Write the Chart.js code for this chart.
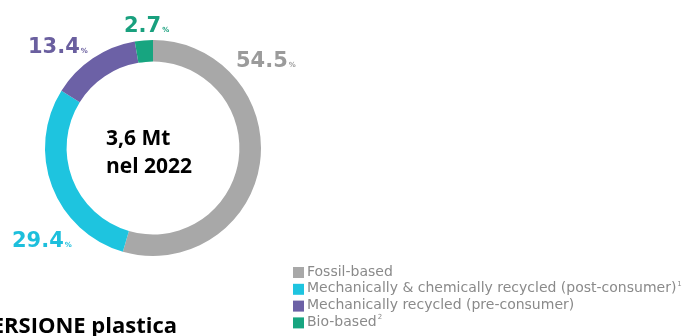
<!DOCTYPE html>
<html>
<head>
<meta charset="utf-8">
<script src="https://cdn.jsdelivr.net/npm/chart.js@4.4.0/dist/chart.umd.min.js"></script>
<style>
  html, body { margin: 0; padding: 0; background: #fff; }
  #wrap { width: 688px; height: 336px; position: relative; }
</style>
</head>
<body>
<div id="wrap"><canvas id="c" width="688" height="336"></canvas></div>
<script>
// data
const categories = ['Fossil-based', 'Mechanically & chemically recycled (post-consumer)', 'Mechanically recycled (pre-consumer)', 'Bio-based'];
const footnotes = ['', '1', '', '2'];
const shares = [54.5, 29.4, 13.4, 2.7];
const colors = ['#a8a8a8', '#1ec4df', '#6c61a6', '#17a580'];
const labelColors = ['#9b9b9b', '#1dbfdc', '#6a5f9f', '#19a07e'];
const centerLines = ['3,6 Mt', 'nel 2022'];
const bottomTitle = 'CONVERSIONE plastica';

// where each value label sits (x, y of the text baseline)
const labelPos = [[236, 67], [12, 247], [28, 53], [124, 32]];

const extrasPlugin = {
  id: 'extras',
  afterDraw(chart) {
    const ctx = chart.ctx;
    ctx.save();

    // value labels
    shares.forEach((v, i) => {
      const [x, y] = labelPos[i];
      ctx.font = 'bold 21px "DejaVu Sans"';
      ctx.fillStyle = labelColors[i];
      ctx.textAlign = 'left';
      ctx.textBaseline = 'alphabetic';
      const s = v.toFixed(1);
      ctx.fillText(s, x, y);
      const w = ctx.measureText(s).width;
      ctx.font = 'bold 7px "DejaVu Sans"';
      ctx.fillText('%', x + w + 1, y);
    });

    // centre text
    ctx.font = 'bold 21px "Open Sans"';
    ctx.fillStyle = '#000';
    ctx.textAlign = 'left';
    ctx.textBaseline = 'alphabetic';
    ctx.fillText(centerLines[0], 106, 145);
    ctx.fillText(centerLines[1], 106, 173);

    // cropped title at the bottom
    ctx.font = 'bold 22px "Open Sans"';
    const cut = ctx.measureText('CONVE').width;
    ctx.fillText(bottomTitle, -cut + 4, 333);

    // legend
    const lx = 293, ly0 = 272, step = 16.8;
    categories.forEach((name, i) => {
      const y = ly0 + i * step;
      ctx.fillStyle = colors[i];
      ctx.fillRect(lx, y - 5, 11, 11);
      ctx.font = '14px "DejaVu Sans"';
      ctx.fillStyle = '#8a8a8a';
      ctx.textBaseline = 'middle';
      ctx.fillText(name, lx + 14, y);
      if (footnotes[i]) {
        const w = ctx.measureText(name).width;
        ctx.font = '7px "DejaVu Sans"';
        ctx.fillText(footnotes[i], lx + 15 + w, y - 5);
      }
    });
    ctx.restore();
  }
};

new Chart(document.getElementById('c'), {
  type: 'doughnut',
  data: {
    labels: categories,
    datasets: [{
      data: shares,
      backgroundColor: colors,
      borderWidth: 0,
      hoverOffset: 0
    }]
  },
  options: {
    responsive: false,
    animation: false,
    cutout: '80%',
    rotation: 0,
    layout: { padding: { left: 45, right: 427, top: 40, bottom: 80 } },
    plugins: {
      legend: { display: false },
      tooltip: { enabled: false }
    }
  },
  plugins: [extrasPlugin]
});
</script>
</body>
</html>
